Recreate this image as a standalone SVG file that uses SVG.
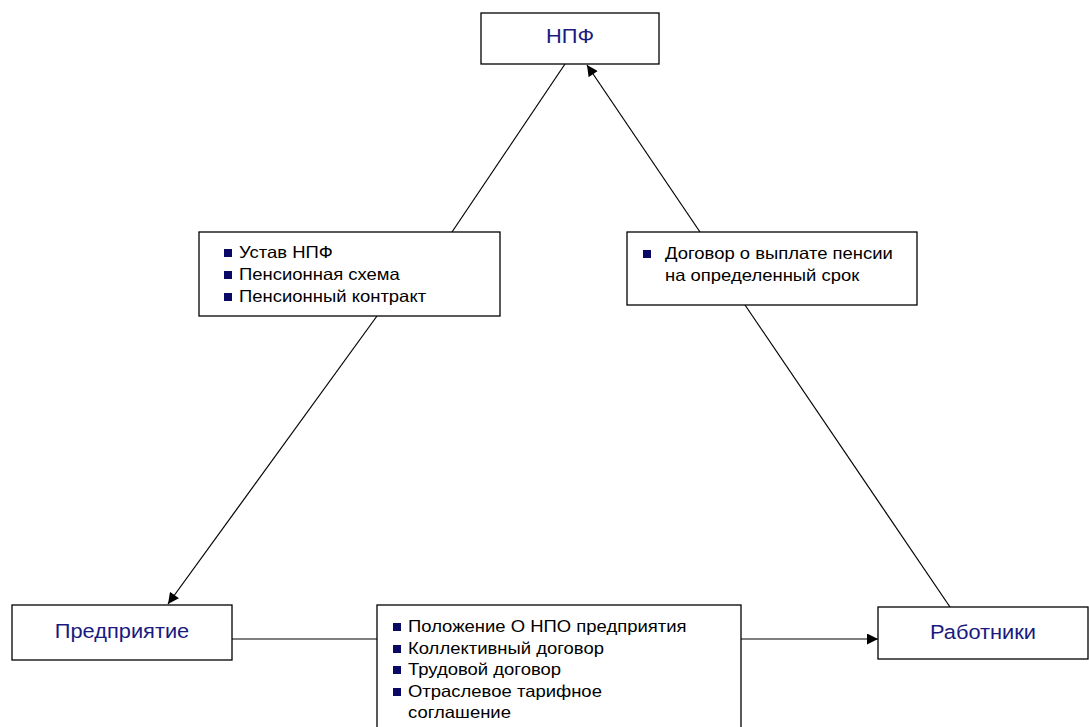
<svg xmlns="http://www.w3.org/2000/svg" width="1089" height="727" viewBox="0 0 1089 727">
<defs>
<style>
.box{fill:#fff;stroke:#000;stroke-width:1.3}
.title{font-family:"Liberation Sans",Arial,sans-serif;font-size:19.5px;fill:#1a1a80;text-anchor:middle}
.item{font-family:"Liberation Sans",Arial,sans-serif;font-size:16.5px;fill:#000}
.bul{fill:#0a0a66}
.con{stroke:#000;stroke-width:1.2;fill:none}
</style>
<marker id="arr" viewBox="0 0 10 10" refX="10" refY="5" markerWidth="12" markerHeight="11" markerUnits="userSpaceOnUse" orient="auto">
<path d="M0,0 L10,5 L0,10 z" fill="#000"/>
</marker>
</defs>
<rect width="1089" height="727" fill="#fff"/>
<g id="connectors">
<line class="con" x1="452" y1="232" x2="565" y2="64"/>
<line class="con" x1="377" y1="316" x2="168" y2="604" marker-end="url(#arr)"/>
<line class="con" x1="700" y1="232" x2="587" y2="65" marker-end="url(#arr)"/>
<line class="con" x1="745" y1="305" x2="950" y2="607"/>
<line class="con" x1="232" y1="639" x2="377" y2="639"/>
<line class="con" x1="741" y1="639" x2="878" y2="639" marker-end="url(#arr)"/>
</g>
<g id="npf">
<rect class="box" x="481" y="13" width="178" height="51"/>
<text class="title" transform="translate(570,43) scale(1.12,1)">НПФ</text>
</g>
<g id="docs-npf">
<rect class="box" x="199" y="232" width="301" height="84"/>
<rect class="bul" x="224" y="249" width="8" height="8"/>
<text class="item" transform="translate(239,258) scale(1.12,1)">Устав НПФ</text>
<rect class="bul" x="224" y="271" width="8" height="8"/>
<text class="item" transform="translate(239,280) scale(1.12,1)">Пенсионная схема</text>
<rect class="bul" x="224" y="293" width="8" height="8"/>
<text class="item" transform="translate(239,302) scale(1.12,1)">Пенсионный контракт</text>
</g>
<g id="docs-workers">
<rect class="box" x="627" y="232" width="290" height="73"/>
<rect class="bul" x="643" y="250" width="8" height="8"/>
<text class="item" transform="translate(665,259) scale(1.12,1)">Договор о выплате пенсии</text>
<text class="item" transform="translate(665,281) scale(1.12,1)">на определенный срок</text>
</g>
<g id="enterprise">
<rect class="box" x="12" y="605" width="220" height="55"/>
<text class="title" transform="translate(122,638) scale(1.12,1)">Предприятие</text>
</g>
<g id="docs-enterprise">
<rect class="box" x="377" y="605" width="364" height="130"/>
<rect class="bul" x="393" y="623" width="8" height="8"/>
<text class="item" transform="translate(408,632) scale(1.12,1)">Положение О НПО предприятия</text>
<rect class="bul" x="393" y="645" width="8" height="8"/>
<text class="item" transform="translate(408,654) scale(1.12,1)">Коллективный договор</text>
<rect class="bul" x="393" y="666" width="8" height="8"/>
<text class="item" transform="translate(408,675) scale(1.12,1)">Трудовой договор</text>
<rect class="bul" x="393" y="688" width="8" height="8"/>
<text class="item" transform="translate(408,697) scale(1.12,1)">Отраслевое тарифное</text>
<text class="item" transform="translate(408,718) scale(1.12,1)">соглашение</text>
</g>
<g id="workers">
<rect class="box" x="878" y="607" width="210" height="52"/>
<text class="title" transform="translate(983,639) scale(1.12,1)">Работники</text>
</g>
</svg>
